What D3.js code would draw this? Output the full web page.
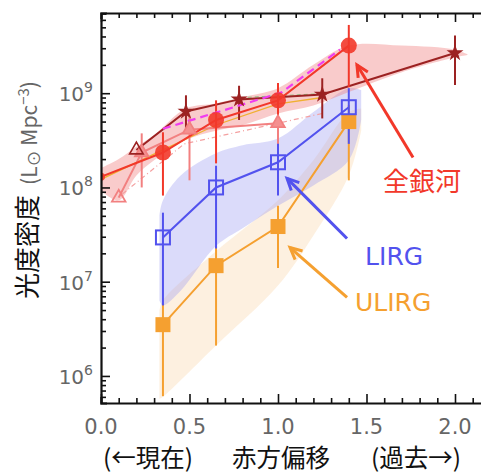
<!DOCTYPE html>
<html>
<head>
<meta charset="utf-8">
<script src="https://cdn.jsdelivr.net/npm/d3@7"></script>
<style>
  body { margin: 0; background: #fff; }
  svg { display: block; }
</style>
</head>
<body>
<div id="chart"></div>
<script>
// redshift / luminosity density values
var allZ = [0.0, 0.35, 0.65, 1.0, 1.4]
var allVal = [1.3e8, 2.35e8, 5.2e8, 8.4e8, 3.2e9]
var allLo = [null, 8.2e7, 1.8e8, 5.2e8, 1.16e9]
var allHi = [null, 3.85e8, 8.4e8, 1.28e9, 5.3e9]

var starZ = [0.2, 0.48, 0.78, 1.25, 2.0]
var starVal = [2.5e8, 6.4e8, 8.6e8, 9.7e8, 2.67e9]
var starLo = [null, 4.2e8, 5.2e8, 5.4e8, 1.22e9]
var starHi = [null, 9.5e8, 1.2e9, 1.44e9, 4.1e9]

var triZ = [0.1, 0.23, 0.5, 1.0]
var triVal = [7.8e7, 2.35e8, 4.1e8, 4.8e8]
var triLo = [null, 1.0e8, 1.19e8, 2.5e8]
var triHi = [null, 3.75e8, 5.8e8, 1.0e9]

var lirgZ = [0.35, 0.65, 1.0, 1.4]
var lirgVal = [2.95e7, 1.0e8, 1.85e8, 7.1e8]
var lirgLo = [5.6e6, 2.25e7, 8.2e7, 2.9e8]
var lirgHi = [5.4e7, 1.7e8, 2.9e8, 1.13e9]

var ulirgZ = [0.35, 0.65, 1.0, 1.4]
var ulirgVal = [3.5e6, 1.48e7, 3.85e7, 5.0e8]
var ulirgLo = [6.1e5, 2.1e6, 1.4e7, 1.19e8]
var ulirgHi = [5.8e6, 2.4e7, 6.4e7, 7.5e8]

// model lines
var dashZ = [0.35, 0.75, 1.02, 1.35]
var dashVal = [4.2e8, 7.1e8, 1.02e9, 2.9e9]
var thinZ = [0.0, 0.35, 0.65, 1.0, 1.25]
var thinVal = [1.22e8, 2.5e8, 4.6e8, 7.7e8, 9.0e8]
var pinkDashZ = [0.12, 0.47, 1.25]
var pinkDashVal = [8.5e7, 2.9e8, 6.1e8]

// shaded bands: z, upper, lower
var redBandZ = [0.0, 0.1, 0.2, 0.3, 0.48, 0.65, 0.8, 1.0, 1.2, 1.4, 1.7, 2.0, 2.07]
var redBandHi = [1.6e8, 2.0e8, 2.7e8, 3.6e8, 6.9e8, 7.8e8, 9.1e8, 1.13e9, 2.0e9, 3.2e9, 3.2e9, 2.9e9, 2.6e9]
var redBandLo = [9.3e7, 7.3e7, 1.34e8, 1.94e8, 3.2e8, 4.0e8, 4.6e8, 6.1e8, 7.4e8, 1.03e9, 1.67e9, 2.4e9, 2.55e9]

var blueBandZ = [0.33, 0.35, 0.45, 0.65, 0.8, 1.0, 1.2, 1.4, 1.47]
var blueBandHi = [5.0e7, 7.3e7, 1.34e8, 2.3e8, 2.8e8, 3.3e8, 6.3e8, 1.13e9, 1.08e9]
var blueBandLo = [6.3e6, 5.6e6, 8.0e6, 2.4e7, 3.7e7, 6.4e7, 1.05e8, 1.94e8, 5.2e8]

var orangeBandZ = [0.33, 0.35, 0.65, 1.0, 1.2, 1.4, 1.47]
var orangeBandHi = [4.9e6, 6.3e6, 2.1e7, 7.3e7, 1.94e8, 6.3e8, 6.9e8]
var orangeBandLo = [5.7e5, 6.0e5, 2.1e6, 9.1e6, 3.1e7, 1.34e8, 4.0e8]

var xTicks = [0.0, 0.5, 1.0, 1.5, 2.0]
var yTickExp = [6, 7, 8, 9]

var COLOR = {
  RED: '#f2382a',
  DARK_RED: '#9c2222',
  PINK: '#f28080',
  MAGENTA: '#f03cf0',
  BLUE: '#5252ee',
  ORANGE: '#f5a030'
}

var chart_width = 481
var chart_height = 474
var plot_left = 101, plot_top = 13, plot_bottom = 403

var svg = d3.select('#chart').append('svg')
  .attr('width', chart_width)
  .attr('height', chart_height)

var x = d3.scaleLinear().domain([0, 2.2]).range([plot_left, plot_left + 2.2 * 177])
var y = d3.scaleLog().domain([Math.pow(10, 5.713), Math.pow(10, 9.851)]).range([plot_bottom, plot_top])

svg.append('clipPath').attr('id', 'plot-clip')
  .append('rect')
  .attr('x', plot_left).attr('y', plot_top)
  .attr('width', chart_width - plot_left).attr('height', plot_bottom - plot_top)

var plot = svg.append('g').attr('clip-path', 'url(#plot-clip)')

function zip3 (zs, a, b) {
  return zs.map((z, i) => ({ z: z, hi: a[i], lo: b[i] }))
}

// bands
var band = d3.area()
  .x(d => x(d.z))
  .y0(d => y(d.lo))
  .y1(d => y(d.hi))
  .curve(d3.curveCatmullRom)

plot.append('path').datum(zip3(orangeBandZ, orangeBandHi, orangeBandLo))
  .attr('d', band).attr('fill', '#f9c88c').attr('opacity', 0.27)
plot.append('path').datum(zip3(blueBandZ, blueBandHi, blueBandLo))
  .attr('d', band).attr('fill', '#9c9cf2').attr('opacity', 0.36)
plot.append('path').datum(zip3(redBandZ, redBandHi, redBandLo))
  .attr('d', band).attr('fill', '#f07c7c').attr('opacity', 0.4)

var line = d3.line().x(d => x(d[0])).y(d => y(d[1]))

function series (zs, vals) {
  return zs.map((z, i) => [z, vals[i]])
}

function drawLine (zs, vals, color, w, dash) {
  plot.append('path').datum(series(zs, vals))
    .attr('d', line)
    .attr('fill', 'none')
    .attr('stroke', color)
    .attr('stroke-width', w)
    .attr('stroke-dasharray', dash || null)
}

function drawBars (zs, lo, hi, color, w) {
  plot.selectAll(null)
    .data(zs.map((z, i) => ({ z: z, lo: lo[i], hi: hi[i] })).filter(d => d.lo !== null))
    .enter().append('line')
    .attr('x1', d => x(d.z)).attr('x2', d => x(d.z))
    .attr('y1', d => y(d.lo)).attr('y2', d => y(d.hi))
    .attr('stroke', color)
    .attr('stroke-width', w)
}

// thin model lines
drawLine(pinkDashZ, pinkDashVal, '#f4a0a0', 1.2, '5,3,1,3')
drawLine(thinZ, thinVal, '#f0b030', 1.3)
drawLine([0.75, 1.25], [8.9e8, 9.9e8], '#8cc080', 1, '4,3')

// pink triangles
drawBars(triZ, triLo, triHi, COLOR.PINK, 2)
drawLine(triZ, triVal, COLOR.PINK, 2)

// dark red stars
drawBars(starZ, starLo, starHi, COLOR.DARK_RED, 2)
drawLine(starZ, starVal, COLOR.DARK_RED, 2)

// all galaxies
drawBars(allZ, allLo, allHi, COLOR.RED, 2)
drawLine(allZ, allVal, COLOR.RED, 2)
drawLine(dashZ, dashVal, COLOR.MAGENTA, 2.2, '8,5')

// LIRG / ULIRG
drawBars(ulirgZ, ulirgLo, ulirgHi, COLOR.ORANGE, 2)
drawLine(ulirgZ, ulirgVal, COLOR.ORANGE, 2)
drawBars(lirgZ, lirgLo, lirgHi, COLOR.BLUE, 2)
drawLine(lirgZ, lirgVal, COLOR.BLUE, 2)

// markers
var tri = d3.symbol().type(d3.symbolTriangle).size(80)
plot.selectAll(null).data(series(triZ, triVal)).enter()
  .append('path')
  .attr('d', tri)
  .attr('transform', d => 'translate(' + x(d[0]) + ',' + y(d[1]) + ')')
  .attr('fill', (d, i) => (i === 0 ? 'none' : '#f49090'))
  .attr('stroke', COLOR.PINK)
  .attr('stroke-width', 1.8)

plot.selectAll(null).data(series(starZ, starVal)).enter()
  .append('path')
  .attr('d', (d, i) => (i === 0 ? tri() : d3.symbol().type(d3.symbolStar).size(45)()))
  .attr('transform', d => 'translate(' + x(d[0]) + ',' + y(d[1]) + ')')
  .attr('fill', (d, i) => (i === 0 ? 'none' : COLOR.DARK_RED))
  .attr('stroke', COLOR.DARK_RED)
  .attr('stroke-width', 1.6)

plot.selectAll(null).data(series(allZ, allVal)).enter()
  .append('circle')
  .attr('cx', d => x(d[0])).attr('cy', d => y(d[1]))
  .attr('r', (d, i) => (i === 0 ? 4 : 8))
  .attr('fill', COLOR.RED)
  .attr('opacity', 0.9)

plot.selectAll(null).data(series(ulirgZ, ulirgVal)).enter()
  .append('rect')
  .attr('x', d => x(d[0]) - 7.5).attr('y', d => y(d[1]) - 7.5)
  .attr('width', 15).attr('height', 15)
  .attr('fill', COLOR.ORANGE)

plot.selectAll(null).data(series(lirgZ, lirgVal)).enter()
  .append('rect')
  .attr('x', d => x(d[0]) - 7).attr('y', d => y(d[1]) - 7)
  .attr('width', 14).attr('height', 14)
  .attr('fill', 'none')
  .attr('stroke', COLOR.BLUE)
  .attr('stroke-width', 2)

// axes
var xMinor = d3.range(0, 23).map(i => i / 10)
var xAxisB = svg.append('g')
  .attr('transform', 'translate(0,' + plot_bottom + ')')
  .call(d3.axisTop(x).tickValues(xMinor).tickFormat(''))
var xAxisT = svg.append('g')
  .attr('transform', 'translate(0,' + plot_top + ')')
  .call(d3.axisBottom(x).tickValues(xMinor).tickFormat(''))
;[xAxisB, xAxisT].forEach(g => {
  var dir = g === xAxisB ? -1 : 1
  g.selectAll('.tick line')
    .attr('y2', d => dir * (Math.abs(d * 2 - Math.round(d * 2)) < 1e-6 ? 9 : 5))
    .attr('stroke', '#111').attr('stroke-width', 1.6)
  g.select('.domain').attr('stroke', '#111').attr('stroke-width', 2.2)
})

var yMinor = []
for (var k = 5; k <= 9; k++) {
  for (var m = 1; m <= 9; m++) {
    var v = m * Math.pow(10, k)
    if (v >= y.domain()[0] && v <= y.domain()[1]) yMinor.push(v)
  }
}
var yAxis = svg.append('g')
  .attr('transform', 'translate(' + plot_left + ',0)')
  .call(d3.axisRight(y).tickValues(yMinor).tickFormat(''))
yAxis.selectAll('.tick line')
  .attr('x2', d => (Math.abs(Math.log10(d) - Math.round(Math.log10(d))) < 1e-6 ? 9 : 5))
  .attr('stroke', '#111').attr('stroke-width', 1.6)
yAxis.select('.domain').attr('stroke', '#111').attr('stroke-width', 2.2)

// tick labels
svg.selectAll(null).data(xTicks).enter()
  .append('text')
  .attr('x', d => x(d)).attr('y', 434)
  .attr('text-anchor', 'middle')
  .attr('font-family', 'DejaVu Sans')
  .attr('font-size', 21)
  .attr('fill', '#666')
  .text(d => d.toFixed(1))

var yLab = svg.selectAll(null).data(yTickExp).enter()
  .append('text')
  .attr('x', 93).attr('y', d => y(Math.pow(10, d)) + 8)
  .attr('text-anchor', 'end')
  .attr('font-family', 'DejaVu Sans')
  .attr('font-size', 20)
  .attr('fill', '#666')
yLab.append('tspan').text('10')
yLab.append('tspan').attr('dy', -9).attr('font-size', 14).text(d => d)

// axis titles
var yt = svg.append('text')
  .attr('transform', 'translate(37,190) rotate(-90)')
  .attr('text-anchor', 'middle')
  .attr('font-family', 'Noto Sans CJK JP')
yt.append('tspan').attr('font-size', 26).attr('fill', '#111').text('光度密度')
yt.append('tspan').attr('font-size', 21).attr('fill', '#666').attr('dx', 10).text('(L')
yt.append('tspan').attr('font-size', 16).attr('fill', '#666').attr('dy', 3).text('⊙')
yt.append('tspan').attr('font-size', 21).attr('fill', '#666').attr('dy', -3).text(' Mpc')
yt.append('tspan').attr('font-size', 15).attr('fill', '#666').attr('dy', -8).text('−3')
yt.append('tspan').attr('font-size', 21).attr('fill', '#666').attr('dy', 8).text(')')

var xTitle = [['(←現在)', 103], ['赤方偏移', 232], ['(過去→)', 371]]
svg.selectAll(null).data(xTitle).enter()
  .append('text')
  .attr('x', d => d[1]).attr('y', 467)
  .attr('font-family', 'Noto Sans CJK JP')
  .attr('font-size', 24.5)
  .attr('fill', '#111')
  .text(d => d[0])

// annotations: [label, color, textZ, textVal, tailZ, tailVal, tipZ, tipVal, font]
var notes = [
  ['全銀河', COLOR.RED, 1.593, 9.1e7, 1.763, 2.08e8, 1.446, 2.0e9, 'Noto Sans CJK JP'],
  ['LIRG', COLOR.BLUE, 1.492, 1.52e7, 1.39, 2.87e7, 1.051, 1.25e8, 'DejaVu Sans'],
  ['ULIRG', COLOR.ORANGE, 1.435, 4.9e6, 1.39, 6.8e6, 1.068, 2.3e7, 'DejaVu Sans']
]
notes.forEach(n => {
  svg.append('text')
    .attr('x', x(n[2])).attr('y', y(n[3]))
    .attr('font-family', n[8])
    .attr('font-size', n[8] === 'DejaVu Sans' ? 25 : 26)
    .attr('fill', n[1])
    .text(n[0])
  var x0 = x(n[4]), y0 = y(n[5]), x1 = x(n[6]), y1 = y(n[7])
  var ang = Math.atan2(y1 - y0, x1 - x0)
  var hl = 13, spread = 0.45
  svg.append('line')
    .attr('x1', x0).attr('y1', y0).attr('x2', x1).attr('y2', y1)
    .attr('stroke', n[1]).attr('stroke-width', 3)
  svg.append('path')
    .attr('d', 'M' + (x1 - hl * Math.cos(ang - spread)) + ',' + (y1 - hl * Math.sin(ang - spread)) +
      'L' + x1 + ',' + y1 +
      'L' + (x1 - hl * Math.cos(ang + spread)) + ',' + (y1 - hl * Math.sin(ang + spread)))
    .attr('fill', 'none')
    .attr('stroke', n[1]).attr('stroke-width', 3)
})
</script>
</body>
</html>
